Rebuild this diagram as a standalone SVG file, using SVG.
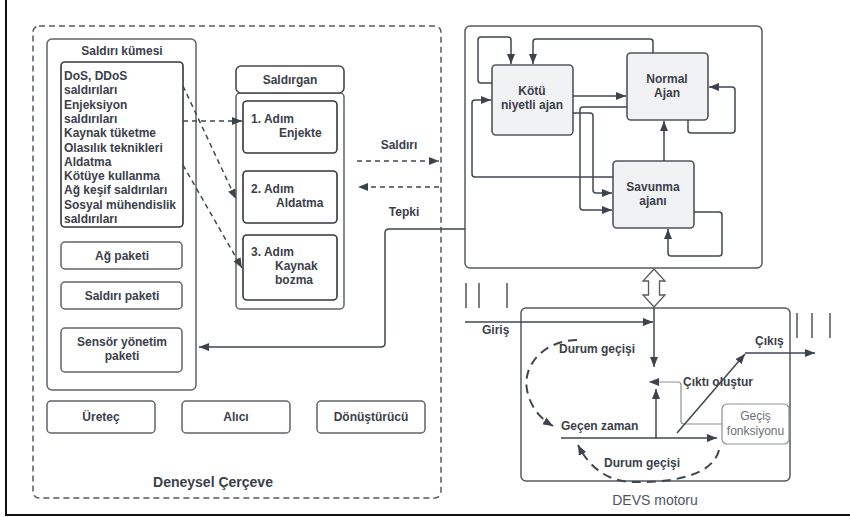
<svg xmlns="http://www.w3.org/2000/svg" width="850" height="517" viewBox="0 0 850 517">
  <defs>
    <marker id="ah" viewBox="0 0 10 8" refX="10" refY="4" markerWidth="10" markerHeight="8" markerUnits="userSpaceOnUse" orient="auto">
      <path d="M0,0 L10,4 L0,8 Z" fill="#3d434c"/>
    </marker>
    <marker id="ahg" viewBox="0 0 10 8" refX="10" refY="4" markerWidth="10" markerHeight="8" markerUnits="userSpaceOnUse" orient="auto">
      <path d="M0,0 L10,4 L0,8 Z" fill="#3d434c"/>
    </marker>
  </defs>
  <style>
    text { font-family: "Liberation Sans", Arial, sans-serif; fill: #3b4049; }
    .b { font-weight: bold; font-size: 12px; }
    .c { text-anchor: middle; }
    .box { fill: #ffffff; stroke: #5f636a; stroke-width: 1.5; }
    .dk { fill: #ffffff; stroke: #33373d; stroke-width: 1.6; }
    .agent { fill: #f1f2f4; stroke: #50555c; stroke-width: 1.6; }
    .ln { fill: none; stroke: #40464f; stroke-width: 1.5; }
    .dash { fill: none; stroke: #40464f; stroke-width: 1.5; stroke-dasharray: 5 4; }
    .loop { fill: none; stroke: #40464f; stroke-width: 2; stroke-dasharray: 9 6; }
    .gray { fill: none; stroke: #8c9096; stroke-width: 1.2; }
  </style>

  <!-- page border -->
  <path d="M6,0 V515 H850" fill="none" stroke="#111" stroke-width="2"/>

  <!-- experimental frame -->
  <g id="deneysel-cerceve">
    <rect x="33" y="26" width="408" height="472" rx="6" fill="none" stroke="#55595f" stroke-width="1.5" stroke-dasharray="6 4"/>
    <text x="213" y="487" class="c" style="font-weight:bold;font-size:14px">Deneysel Çerçeve</text>
  </g>

  <g id="saldiri-kumesi">
    <rect x="47" y="39" width="149" height="351" rx="5" class="box"/>
    <text x="122" y="55" class="b c">Saldırı kümesi</text>
  </g>

  <g id="saldiri-listesi">
    <rect x="61" y="62" width="122" height="165" rx="4" class="dk"/>
    <text class="b" x="64" y="80">DoS, DDoS</text>
    <text class="b" x="64" y="94.3">saldırıları</text>
    <text class="b" x="64" y="108.6">Enjeksiyon</text>
    <text class="b" x="64" y="122.9">saldırıları</text>
    <text class="b" x="64" y="137.2">Kaynak tüketme</text>
    <text class="b" x="64" y="151.5">Olasılık teknikleri</text>
    <text class="b" x="64" y="165.8">Aldatma</text>
    <text class="b" x="64" y="180.1">Kötüye kullanma</text>
    <text class="b" x="64" y="194.4">Ağ keşif saldırıları</text>
    <text class="b" x="64" y="208.7">Sosyal mühendislik</text>
    <text class="b" x="64" y="223">saldırıları</text>
  </g>

  <g id="ag-paketi">
    <rect x="61" y="242" width="121" height="27" rx="4" class="box"/>
    <text x="122" y="259.5" class="b c">Ağ paketi</text>
  </g>
  <g id="saldiri-paketi">
    <rect x="61" y="282" width="121" height="27" rx="4" class="box"/>
    <text x="122" y="299.5" class="b c">Saldırı paketi</text>
  </g>
  <g id="sensor-paketi">
    <rect x="61" y="328" width="121" height="44" rx="4" class="box"/>
    <text x="122" y="346" class="b c">Sensör yönetim</text>
    <text x="122" y="360" class="b c">paketi</text>
  </g>

  <g id="uretec">
    <rect x="47" y="401" width="108" height="32" rx="4" class="box"/>
    <text x="101" y="421" class="b c">Üreteç</text>
  </g>
  <g id="alici">
    <rect x="182" y="401" width="108" height="32" rx="4" class="box"/>
    <text x="236" y="421" class="b c">Alıcı</text>
  </g>
  <g id="donusturucu">
    <rect x="317" y="401" width="108" height="32" rx="4" class="box"/>
    <text x="371" y="421" class="b c">Dönüştürücü</text>
  </g>

  <!-- attacker column -->
  <g id="saldirgan">
    <rect x="236" y="93" width="108" height="216" rx="4" class="box"/>
    <rect x="236" y="66" width="108" height="27" rx="5" class="dk" style="stroke:#45494f"/>
    <text x="290" y="84" class="b c">Saldırgan</text>
  </g>
  <g id="adim-1">
    <rect x="243" y="101" width="94" height="52" rx="4" class="dk"/>
    <text class="b" x="251" y="123">1.  Adım</text>
    <text class="b" x="279" y="137">Enjekte</text>
  </g>
  <g id="adim-2">
    <rect x="243" y="171" width="94" height="52" rx="4" class="dk"/>
    <text class="b" x="251" y="193">2. Adım</text>
    <text class="b" x="276" y="207">Aldatma</text>
  </g>
  <g id="adim-3">
    <rect x="243" y="235" width="94" height="65" rx="4" class="dk"/>
    <text class="b" x="251" y="256">3. Adım</text>
    <text class="b" x="275" y="270">Kaynak</text>
    <text class="b" x="275" y="284">bozma</text>
  </g>

  <!-- agents -->
  <g id="ajanlar">
    <rect x="465" y="26" width="297" height="242" rx="5" fill="#fff" stroke="#55595f" stroke-width="1.5"/>
  </g>
  <g id="kotu-niyetli-ajan">
    <rect x="492" y="65" width="81" height="70" rx="4" class="agent"/>
    <text x="532" y="95" class="b c">Kötü</text>
    <text x="532" y="109" class="b c">niyetli ajan</text>
  </g>
  <g id="normal-ajan">
    <rect x="627" y="53" width="81" height="67" rx="4" class="agent"/>
    <text x="667" y="83" class="b c">Normal</text>
    <text x="667" y="97" class="b c">Ajan</text>
  </g>
  <g id="savunma-ajani">
    <rect x="613" y="161" width="81" height="67" rx="4" class="agent"/>
    <text x="653" y="191" class="b c">Savunma</text>
    <text x="653" y="205" class="b c">ajanı</text>
  </g>

  <!-- DEVS engine -->
  <g id="devs-motoru">
    <rect x="521" y="308" width="269" height="173" rx="5" fill="none" stroke="#55595f" stroke-width="1.5"/>
    <text x="655" y="505" class="c" style="font-size:14px;fill:#50555c">DEVS motoru</text>
  </g>
  <g id="gecis-fonksiyonu">
    <rect x="722" y="404" width="67" height="40" rx="5" fill="#fff" stroke="#8c9096" stroke-width="1.2"/>
    <text x="755.5" y="420" class="c" style="font-size:12px;fill:#6b7078">Geçiş</text>
    <text x="755.5" y="435" class="c" style="font-size:12px;fill:#6b7078">fonksiyonu</text>
  </g>

  <g id="baglantilar">
    <!-- attack list to steps -->
    <path class="dash" d="M183,121 H242" marker-end="url(#ah)"/>
    <path class="dash" d="M183,86 L236,199" marker-end="url(#ah)"/>
    <path class="dash" d="M183,165 L242,268" marker-end="url(#ah)"/>

    <!-- attack / response -->
    <path class="dash" d="M357,161 H439" marker-end="url(#ah)"/>
    <path class="dash" d="M439,187 H358" marker-end="url(#ah)"/>
    <text x="399" y="149" class="b c">Saldırı</text>
    <text x="404" y="216" class="b c">Tepki</text>
    <path class="ln" d="M465,229 H389 Q385,229 385,233 V343 Q385,347 381,347 H199" marker-end="url(#ah)"/>

    <!-- agent interactions -->
    <path class="ln" d="M492,83 H481 Q478,83 478,80 V40 Q478,37 481,37 H508 Q511,37 511,40 V64" marker-end="url(#ah)"/>
    <path class="ln" d="M653,53 V42 Q653,39 650,39 H536 Q533,39 533,42 V64" marker-end="url(#ah)"/>
    <path class="ln" d="M573,96 H626" marker-end="url(#ah)"/>
    <path class="ln" d="M627,107 H583 Q580,107 580,110 V207 Q580,210 583,210 H612" marker-end="url(#ah)"/>
    <path class="ln" d="M573,113 H590 Q593,113 593,116 V190 Q593,193 596,193 H612" marker-end="url(#ah)"/>
    <path class="ln" d="M613,177 H475 Q472,177 472,174 V103 Q472,100 475,100 H491" marker-end="url(#ah)"/>
    <path class="ln" d="M664,161 V121" marker-end="url(#ah)"/>
    <path class="ln" d="M688,120 V130 Q688,133 691,133 H732 Q735,133 735,130 V90 Q735,87 732,87 H709" marker-end="url(#ah)"/>
    <path class="ln" d="M694,212 H719 Q722,212 722,215 V253 Q722,256 719,256 H671 Q668,256 668,253 V229" marker-end="url(#ah)"/>

    <!-- link between agents and DEVS engine -->
    <path d="M654,269 L665,281 H659.5 V295 H665 L654,307 L643,295 H648.5 V281 H643 Z" fill="#fff" stroke="#55595f" stroke-width="1.3"/>

    <!-- port bars -->
    <path d="M466,283 V308 M479,283 V308 M507,283 V308 M797,313 V338 M812,313 V338 M830,313 V338" stroke="#50555c" stroke-width="1.5" fill="none"/>

    <!-- DEVS internals -->
    <path class="ln" d="M465,322 H653" marker-end="url(#ah)"/>
    <text x="482" y="334" class="b">Giriş</text>
    <path class="ln" d="M654,308 V367" marker-end="url(#ah)"/>
    <path class="loop" d="M577,340 C548,340 522,362 527,390 C531,410 543,420 553,426" marker-end="url(#ah)"/>
    <text x="597" y="353" class="b c">Durum geçişi</text>
    <text x="561" y="430" class="b">Geçen zaman</text>
    <path class="ln" d="M561,438 H717" marker-end="url(#ah)"/>
    <path class="ln" d="M656,438 V389" marker-end="url(#ah)"/>
    <path class="gray" d="M722,424 H684 Q681,424 681,421 V385 Q681,382 678,382 H649" marker-end="url(#ahg)"/>
    <text x="683" y="386" class="b">Çıktı oluştur</text>
    <path class="ln" d="M677,433 L745,354" marker-end="url(#ah)"/>
    <path class="ln" d="M745,353 H815" marker-end="url(#ah)"/>
    <text x="755" y="345" class="b">Çıkış</text>
    <path class="loop" d="M719,450 C712,478 665,483 632,482 C605,481 588,465 578,445" marker-end="url(#ah)"/>
    <text x="642" y="467" class="b c">Durum geçişi</text>
  </g>
</svg>
